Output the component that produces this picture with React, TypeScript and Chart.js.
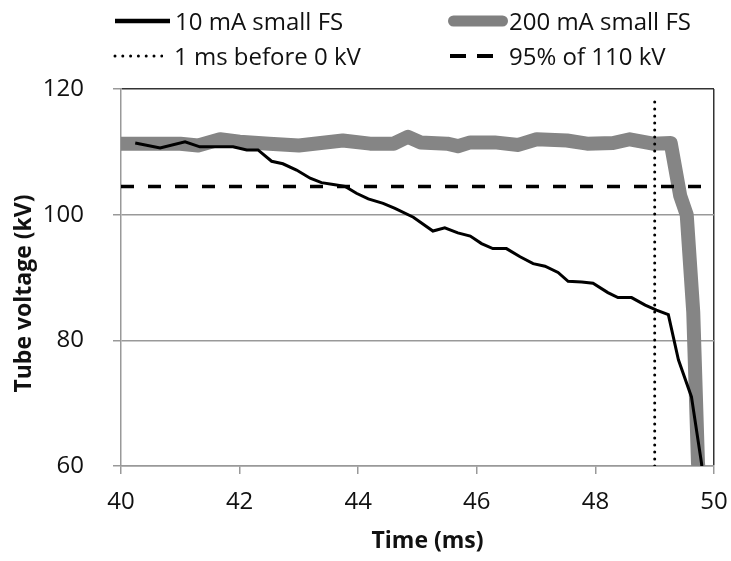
import React, { useEffect, useRef } from "react";
import { Chart, registerables } from "chart.js";
Chart.register(...registerables);

// ---- data ----
const time10mA = [40.24, 40.66, 41.08, 41.33, 41.89, 42.12, 42.31, 42.54, 42.73, 42.96, 43.19, 43.38, 43.58, 43.78, 43.97, 44.17, 44.42, 44.62, 44.93, 45.26, 45.46, 45.68, 45.89, 46.08, 46.27, 46.5, 46.73, 46.95, 47.15, 47.37, 47.54, 47.77, 47.96, 48.21, 48.38, 48.61, 48.84, 49.03, 49.23, 49.4, 49.62, 49.79, 49.85];
const kv10mA = [111.4, 110.6, 111.6, 110.8, 110.8, 110.3, 110.3, 108.5, 108.1, 107.1, 105.8, 105.1, 104.8, 104.5, 103.4, 102.5, 101.8, 101.0, 99.6, 97.4, 97.9, 97.1, 96.6, 95.4, 94.6, 94.6, 93.3, 92.2, 91.8, 90.8, 89.4, 89.3, 89.1, 87.6, 86.8, 86.8, 85.6, 84.8, 84.1, 76.9, 71.0, 60.4, 55];
const time200mA = [40.0, 40.5, 41.0, 41.3, 41.67, 42.0, 42.5, 43.0, 43.74, 44.2, 44.6, 44.84, 45.05, 45.5, 45.68, 45.89, 46.3, 46.7, 47.01, 47.52, 47.86, 48.3, 48.58, 48.97, 49.27, 49.43, 49.54, 49.65, 49.73, 49.78];
const kv200mA = [111.3, 111.3, 111.3, 111.0, 112.0, 111.6, 111.3, 111.0, 111.8, 111.3, 111.3, 112.4, 111.5, 111.3, 110.9, 111.5, 111.5, 111.1, 112.0, 111.8, 111.3, 111.4, 112.0, 111.3, 111.4, 103, 100, 84.5, 60.5, 55];
const markerTime = [49, 49];
const markerKv = [60, 119];
const thresholdTime = [40, 50];
const thresholdKv = [104.5, 104.5];
const xRange = [40, 50];
const yRange = [60, 120];
const xStep = 2;
const yStep = 20;
const seriesLabels = ["10 mA small FS", "200 mA small FS", "1 ms before 0 kV", "95% of 110 kV"];
const xTitle = "Time (ms)";
const yTitle = "Tube voltage (kV)";

const FONT = "'Open Sans', sans-serif";

function pts(xs: number[], ys: number[]) {
  return xs.map((x, i) => ({ x, y: ys[i] }));
}

const titlePlugin = {
  id: "axisTitles",
  afterDraw(chart: any) {
    const { ctx, chartArea } = chart;
    ctx.save();
    ctx.fillStyle = "#111";
    ctx.font = `bold 23px ${FONT}`;
    ctx.textAlign = "center";
    ctx.textBaseline = "alphabetic";
    const cx = (chartArea.left + chartArea.right) / 2 + 10;
    ctx.fillText(xTitle, cx, chartArea.bottom + 82);
    const cy = (chartArea.top + chartArea.bottom) / 2 + 16;
    ctx.translate(chartArea.left - 90, cy);
    ctx.rotate(-Math.PI / 2);
    ctx.fillText(yTitle, 0, 0);
    ctx.restore();
  },
};

function Sample({ kind }: { kind: number }) {
  if (kind === 0)
    return (
      <svg width="55" height="14" style={{ display: "block" }}><line x1="0" y1="7" x2="55" y2="7" stroke="#000" strokeWidth="4.5" /></svg>
    );
  if (kind === 1)
    return (
      <svg width="60" height="16" style={{ display: "block" }}><line x1="5.5" y1="8" x2="54.5" y2="8" stroke="#808080" strokeWidth="11" strokeLinecap="round" /></svg>
    );
  if (kind === 2)
    return (
      <svg width="50" height="14" style={{ display: "block" }}><line x1="2" y1="7" x2="49" y2="7" stroke="#000" strokeWidth="3" strokeDasharray="0 7.8" strokeLinecap="round" /></svg>
    );
  return (
    <svg width="45" height="14" style={{ display: "block" }}><line x1="0" y1="7" x2="45" y2="7" stroke="#000" strokeWidth="4" strokeDasharray="16 11" /></svg>
  );
}

export default function App() {
  const ref = useRef<HTMLCanvasElement>(null);
  useEffect(() => {
    const cv = ref.current!;
    const chart = new Chart(cv, {
      type: "line",
      data: {
        datasets: [
          {
            label: seriesLabels[0],
            data: pts(time10mA, kv10mA),
            borderColor: "#000",
            borderWidth: 3,
            pointRadius: 0,
            tension: 0,
            order: 2,
          },
          {
            label: seriesLabels[2],
            data: pts(markerTime, markerKv),
            borderColor: "#000",
            borderWidth: 3,
            borderDash: [0, 7],
            borderCapStyle: "round",
            pointRadius: 0,
            order: 1,
          },
          {
            label: seriesLabels[3],
            data: pts(thresholdTime, thresholdKv),
            borderColor: "#000",
            borderWidth: 3.5,
            borderDash: [13, 14],
            pointRadius: 0,
            order: 1,
          },
          {
            label: seriesLabels[1],
            data: pts(time200mA, kv200mA),
            borderColor: "#858585",
            borderWidth: 14,
            borderJoinStyle: "round",
            pointRadius: 0,
            tension: 0,
            order: 5,
          },
        ],
      },
      options: {
        animation: false,
        responsive: false,
        layout: { padding: { top: 89, right: 17, left: 0, bottom: 0 } },
        plugins: { legend: { display: false }, tooltip: { enabled: false } },
        scales: {
          x: {
            type: "linear",
            min: xRange[0],
            max: xRange[1],
            ticks: { stepSize: xStep, font: { family: FONT, size: 24 }, color: "#111", padding: 14, maxRotation: 0 },
            grid: {
              color: (c: any) => (c.tick && c.tick.value === xRange[1] ? "#333" : "rgba(0,0,0,0)"),
              tickColor: "#999",
              tickLength: 8,
              lineWidth: 1.5,
            },
            border: { color: "#999", width: 1.5 },
            title: { display: false },
            afterFit: (s: any) => {
              s.height = 95;
              s.paddingLeft = 0;
              s.paddingRight = 0;
            },
          },
          y: {
            min: yRange[0],
            max: yRange[1],
            ticks: { stepSize: yStep, font: { family: FONT, size: 24 }, color: "#111", padding: 29 },
            grid: {
              color: (c: any) => (c.tick && c.tick.value === yRange[1] ? "#333" : "#999"),
              tickColor: "#999",
              tickLength: 8,
              lineWidth: 1.5,
            },
            border: { color: "#999", width: 1.5 },
            title: { display: false },
            afterFit: (s: any) => {
              s.width = 121;
              s.paddingTop = 0;
              s.paddingBottom = 0;
            },
          },
        },
      },
      plugins: [titlePlugin],
    } as any);
    return () => chart.destroy();
  }, []);

  const textStyle: React.CSSProperties = { fontFamily: FONT, fontSize: 24, color: "#111", whiteSpace: "nowrap", lineHeight: "30px" };
  const item = (kind: number, left: number, cy: number, gap: number) => (
    <div style={{ position: "absolute", left, top: cy - 15, display: "flex", alignItems: "center", height: 30 }}>
      <Sample kind={kind} />
      <span style={{ ...textStyle, marginLeft: gap }}>{seriesLabels[kind]}</span>
    </div>
  );

  return (
    <div style={{ position: "fixed", left: 0, top: 0, width: 731, height: 561, background: "#fff" }}>
      <canvas ref={ref} width={731} height={561} style={{ position: "absolute", left: 0, top: 0 }} />
      {item(0, 115, 21, 5)}
      {item(1, 448, 21, 1)}
      {item(2, 113, 56, 11)}
      {item(3, 450, 56, 14)}
    </div>
  );
}
